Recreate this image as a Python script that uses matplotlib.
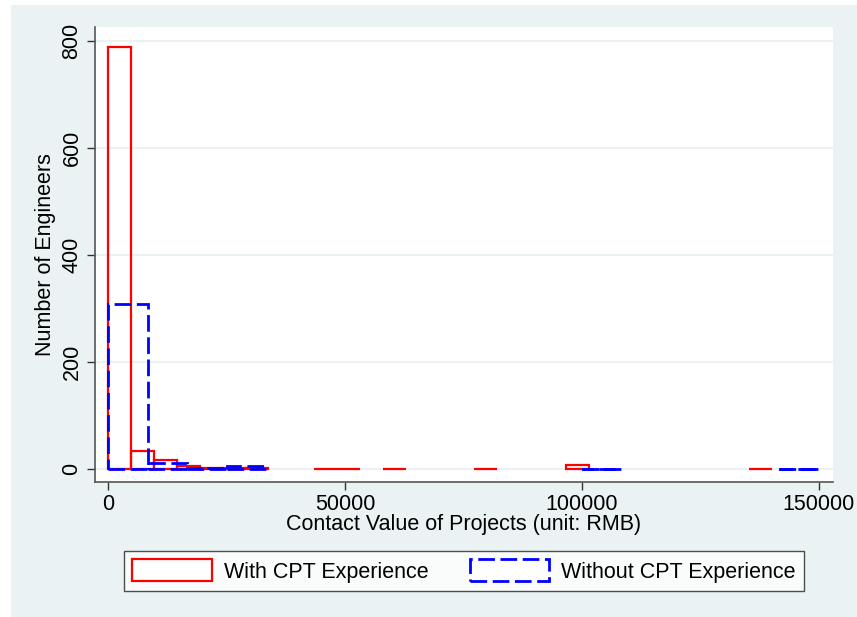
import numpy as np
import matplotlib.pyplot as plt
from matplotlib.patches import Patch, Rectangle

plt.rcParams['font.family'] = ['Liberation Sans', 'DejaVu Sans']

# bin widths (RMB)
with_width = 4830
without_width = 150000 / 18

# counts per bin, starting at 0
with_counts = [788, 34, 18, 6, 3, 3, 2, 0, 0, 1, 1, 0, 1, 0, 0, 0, 1, 0, 0, 0,
               8, 0, 0, 0, 0, 0, 0, 0, 1]
without_counts = [308, 12, 2, 6, 0, 0, 0, 0, 0, 0, 0, 0, 1, 0, 0, 0, 0, 1]

xticks = [0, 50000, 100000, 150000]
yticks = [0, 200, 400, 600, 800]

bg = '#eaf2f3'
fs = 15.5

fig = plt.figure(figsize=(8.57, 6.17), dpi=100, facecolor='white')
fig.patches.append(Rectangle((11 / 857, 0), 1, 1 - 5 / 617, transform=fig.transFigure,
                             facecolor=bg, edgecolor='none', zorder=-10))
ax = fig.add_axes([95 / 857, 1 - 482 / 617, (833 - 95) / 857, (482 - 27) / 617])
ax.set_facecolor('white')

# only draw bins that have engineers in them, like stata does
wc = np.array(with_counts)
idx = np.nonzero(wc)[0]
ax.bar(idx * with_width, wc[idx], width=with_width, align='edge',
       fill=False, edgecolor='#ff0000', linewidth=1.6, zorder=3)

nc = np.array(without_counts)
idx = np.nonzero(nc)[0]
ax.bar(idx * without_width, nc[idx], width=without_width, align='edge',
       fill=False, edgecolor='#0000ff', linewidth=2, linestyle=(0, (6, 2)), zorder=4)

ax.set_xlim(-2743, 152954)
ax.set_ylim(-24, 826)
ax.set_xticks(xticks)
ax.set_xticklabels([str(t) for t in xticks])
ax.set_yticks(yticks)
ax.set_yticklabels([str(t) for t in yticks], rotation=90, va='center')
ax.tick_params(direction='out', length=6, width=1, color='#333333', labelsize=fs, pad=3)
ax.grid(axis='y', color=bg, linewidth=1.5, zorder=0)
ax.set_axisbelow(True)
for s in ['top', 'right']:
    ax.spines[s].set_visible(False)
for s in ['left', 'bottom']:
    ax.spines[s].set_color('#555555')
    ax.spines[s].set_linewidth(1.2)

ax.set_xlabel('Contact Value of Projects (unit: RMB)', fontsize=fs, labelpad=-1)
ax.set_ylabel('Number of Engineers', fontsize=fs, labelpad=4)

handles = [Patch(facecolor='white', edgecolor='#ff0000', linewidth=1.6, label='With CPT Experience'),
           Patch(facecolor='white', edgecolor='#0000ff', linewidth=2, linestyle=(0, (6, 2)),
                 label='Without CPT Experience')]
leg = fig.legend(handles=handles, ncol=2, loc='center', bbox_to_anchor=(464 / 857, 1 - 571 / 617),
                 fontsize=fs, frameon=True, fancybox=False, handlelength=3.7, handleheight=1.2,
                 handletextpad=0.55, columnspacing=1.9, borderpad=0.4)
leg.get_frame().set_edgecolor('#222222')
leg.get_frame().set_linewidth(1)

fig.savefig('out.png', dpi=100, facecolor=fig.get_facecolor())
